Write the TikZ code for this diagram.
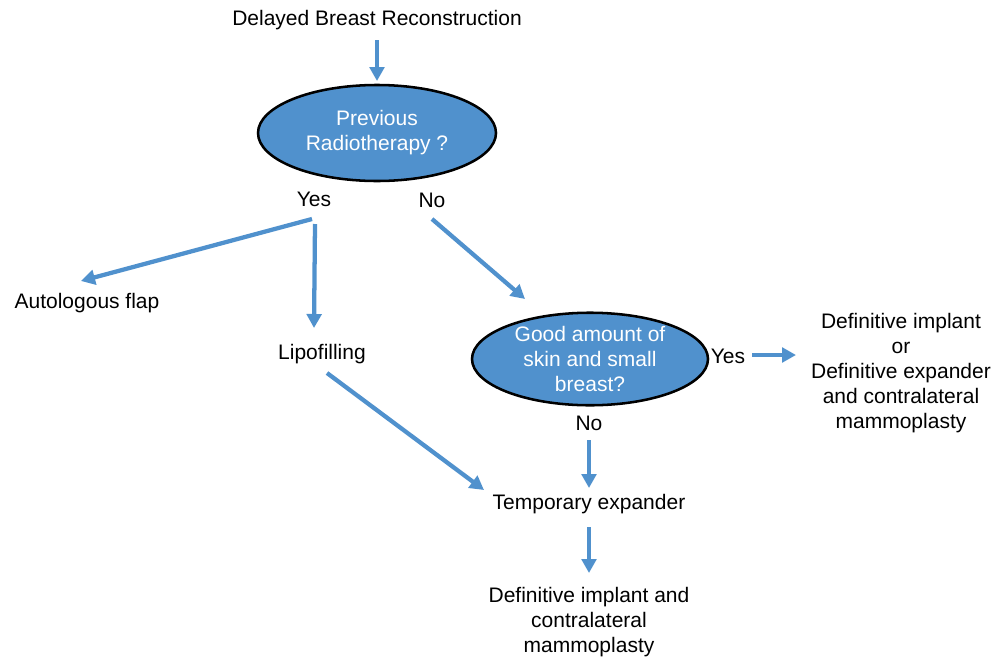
\documentclass[tikz,border=0pt]{standalone}
\usepackage{fontspec}
\setmainfont{Liberation Sans}
\usetikzlibrary{shapes.geometric,arrows.meta}
\definecolor{flowblue}{RGB}{80,145,205}
\begin{document}
\begin{tikzpicture}[x=0.75pt,y=-0.75pt,
  every node/.style={font=\fontsize{15.75pt}{18.75pt}\selectfont, align=center, inner sep=0pt},
  label/.style={text=black},
  question/.style={ellipse, draw=black, line width=1.9pt, fill=flowblue, text=white},
  arr/.style={draw=flowblue, line width=3.2pt, -{Triangle[length=10.5pt,width=11pt]}}]
\useasboundingbox (0,0) rectangle (1007,661);

% nodes
\node[label] (start) at (377,20) {Delayed Breast Reconstruction};
\node[question, minimum width=178.5pt, minimum height=72pt] (radio) at (377,133) {Previous\\Radiotherapy ?};
\node[label] (yes1) at (314,199) {Yes};
\node[label] (no1) at (432,200) {No};
\node[label] (flap) at (87,303) {Autologous flap};
\node[label] (lipo) at (322,354) {Lipofilling};
\node[question, minimum width=177pt, minimum height=65pt] (skin) at (590,359) {Good amount of\\skin and small\\breast?};
\node[label] (yes2) at (728,356) {Yes};
\node[label] (defimp) at (901,373) {Definitive implant\\or\\Definitive expander\\and contralateral\\mammoplasty};
\node[label] (no2) at (589,423) {No};
\node[label] (temp) at (589,504) {Temporary expander};
\node[label] (final) at (589,622) {Definitive implant and\\contralateral\\mammoplasty};

% connector end points
\coordinate (s0) at (377,40);   \coordinate (e0) at (377,81);
\coordinate (s1) at (312,219);  \coordinate (e1) at (81,281);
\coordinate (s2) at (315,224);  \coordinate (e2) at (314,328);
\coordinate (s3) at (432,219);  \coordinate (e3) at (525,299);
\coordinate (s4) at (752,355);  \coordinate (e4) at (796,355);
\coordinate (s5) at (589,440);  \coordinate (e5) at (589,488);
\coordinate (s6) at (327,373);  \coordinate (e6) at (484,490);
\coordinate (s7) at (589,527);  \coordinate (e7) at (589,573);

% connectors
\draw[arr] (s0) -- (e0);
\draw[arr] (s1) -- (e1);
\draw[arr] (s2) -- (e2);
\draw[arr] (s3) -- (e3);
\draw[arr] (s4) -- (e4);
\draw[arr] (s5) -- (e5);
\draw[arr] (s6) -- (e6);
\draw[arr] (s7) -- (e7);
\end{tikzpicture}
\end{document}
